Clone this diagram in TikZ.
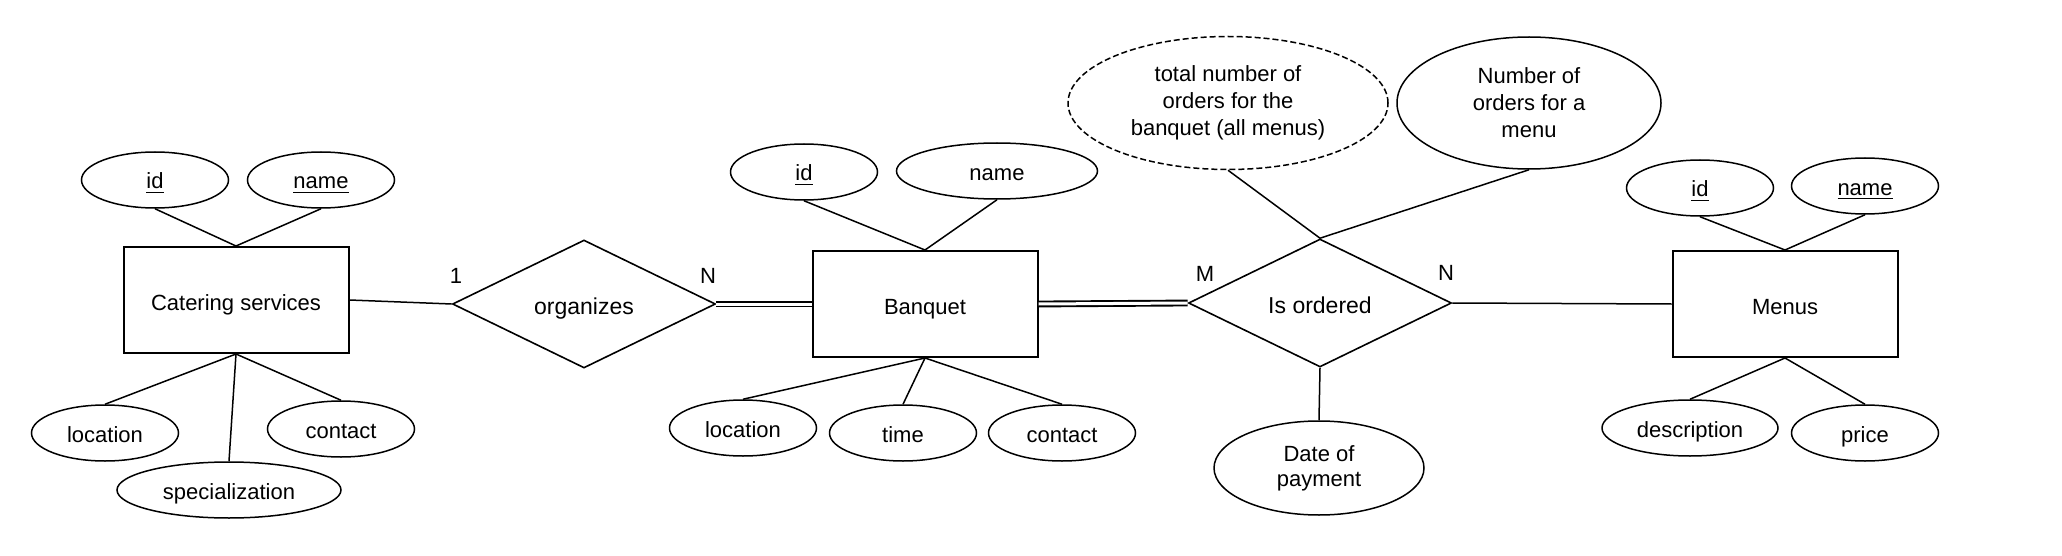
\documentclass[tikz,border=0pt]{standalone}
\usepackage{fontspec}
\setmainfont{Liberation Sans}
\usetikzlibrary{shapes.geometric}

\begin{document}
\begin{tikzpicture}[x=0.5pt, y=-0.5pt,
    entity/.style={rectangle, draw=black, line width=1pt, minimum width=112.5pt, minimum height=53pt, inner sep=0pt, text height=10pt, text depth=0pt, font=\fontsize{11}{13}\selectfont},
    attr/.style={ellipse, draw=black, line width=0.75pt, minimum width=73.5pt, minimum height=28pt, inner sep=0pt, text height=9pt, text depth=0pt, font=\fontsize{11}{13.5}\selectfont},
    note/.style={attr, align=center, text height=, text depth=},
    rel/.style={diamond, draw=black, line width=0.8pt, minimum width=131.5pt, minimum height=64pt, inner sep=0pt, text height=10pt, text depth=0pt, font=\fontsize{11.5}{13}\selectfont},
    card/.style={inner sep=0pt, font=\fontsize{11}{13}\selectfont},
    link/.style={draw=black, line width=0.75pt},
    total/.style={draw=black, line width=0.95pt, double, double distance=1.5pt}]
    \useasboundingbox (0,0) rectangle (2062,556);

    % catering services
    \node[entity] (cat) at (236, 300) {Catering services};
    \node[attr] (catid) at (155, 180) {\underline{id}};
    \node[attr] (catname) at (321, 180) {\underline{name}};
    \node[attr] (catloc) at (105, 433) {location};
    \node[attr, minimum width=112pt] (catspec) at (229, 490) {specialization};
    \node[attr] (catcont) at (341, 429) {contact};
    \draw[link] (catid.south) -- (cat.north);
    \draw[link] (catname.south) -- (cat.north);
    \draw[link] (cat.south) -- (catloc.north);
    \draw[link] (cat.south) -- (catspec.north);
    \draw[link] (cat.south) -- (catcont.north);

    % organizes
    \node[rel] (org) at (584, 304) {organizes};
    \node[card] (lone) at (456, 276) {1};
    \node[card] (lnorg) at (708, 276) {N};
    \draw[link] (cat.east) -- (org.west);

    % banquet
    \node[entity] (banq) at (925, 304) {Banquet};
    \node[attr] (banqid) at (804, 172) {\underline{id}};
    \node[attr, minimum width=100.5pt] (banqname) at (997, 171) {name};
    \node[attr] (banqloc) at (743, 428) {location};
    \node[attr] (banqtime) at (903, 433) {time};
    \node[attr] (banqcont) at (1062, 433) {contact};
    \draw[link] (banqid.south) -- (banq.north);
    \draw[link] (banqname.south) -- (banq.north);
    \draw[link] (banq.south) -- (banqloc.north);
    \draw[link] (banq.south) -- (banqtime.north);
    \draw[link] (banq.south) -- (banqcont.north);
    \draw[total] (org.east) -- (banq.west);

    % is ordered
    \node[rel] (ord) at (1320, 303) {Is ordered};
    \node[card] (lmord) at (1205, 274) {M};
    \node[card] (lnord) at (1446, 273) {N};
    \node[note, dashed, dash pattern=on 3pt off 1.5pt, minimum width=160pt, minimum height=66.5pt] (sumord) at (1228, 103) {total number of\\orders for the\\banquet (all menus)};
    \node[note, minimum width=132pt, minimum height=66pt] (numord) at (1529, 103) {Number of\\orders for a\\menu};
    \node[note, minimum width=105pt, minimum height=47pt, font=\fontsize{11}{12.5}\selectfont] (paydate) at (1319, 468) {Date of\\payment};
    \draw[total] (banq.east) -- (ord.west);
    \draw[link] (sumord.south) -- (ord.north);
    \draw[link] (numord.south) -- (ord.north);
    \draw[link] (ord.south) -- (paydate.north);

    % menus
    \node[entity] (menus) at (1785, 304) {Menus};
    \node[attr] (menid) at (1700, 188) {\underline{id}};
    \node[attr] (menname) at (1865, 186) {\underline{name}};
    \node[attr, minimum width=88pt] (mendesc) at (1690, 428) {description};
    \node[attr] (menprice) at (1865, 433) {price};
    \draw[link] (menid.south) -- (menus.north);
    \draw[link] (menname.south) -- (menus.north);
    \draw[link] (menus.south) -- (mendesc.north);
    \draw[link] (menus.south) -- (menprice.north);
    \draw[link] (ord.east) -- (menus.west);
\end{tikzpicture}
\end{document}
